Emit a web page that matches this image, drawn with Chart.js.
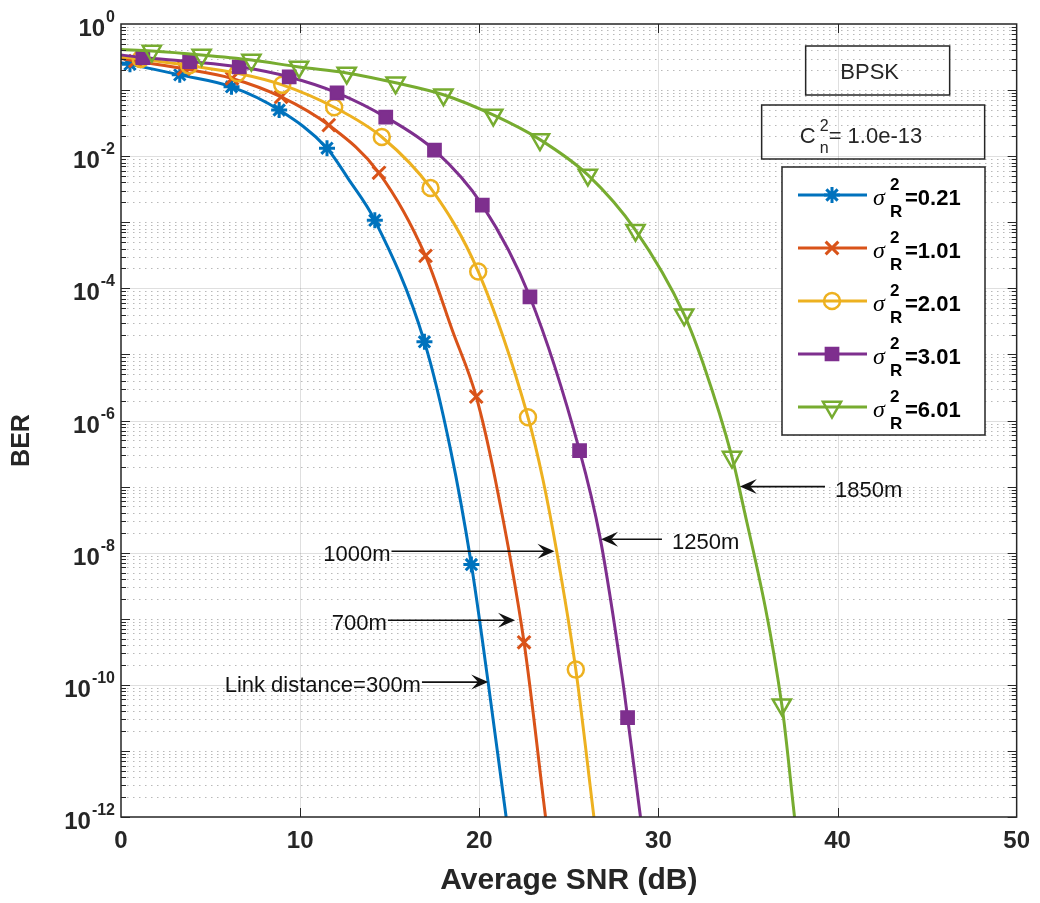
<!DOCTYPE html>
<html>
<head>
<meta charset="utf-8">
<script src="https://cdn.jsdelivr.net/npm/chart.js@4.4.1/dist/chart.umd.min.js"></script>
<style>
  html, body { margin: 0; padding: 0; background: #fff; }
</style>
</head>
<body>
<canvas id="ber_chart" width="1040" height="903"></canvas>
<script>
// sigma_R^2 values of the five curves
const sigmaLabels = ['0.21', '1.01', '2.01', '3.01', '6.01'];

// marker points (SNR in dB, BER)
const snrMk0 = [0.5, 3.28, 6.17, 8.83, 11.5, 14.17, 16.94, 19.56];
const berMk0 = [0.245, 0.17, 0.112, 0.05, 0.0132, 1.07e-3, 1.55e-5, 6.6e-9];
const snrMk1 = [0.8, 3.5, 6.2, 8.94, 11.6, 14.4, 17.0, 19.83, 22.5];
const berMk1 = [0.275, 0.21, 0.15, 0.079, 0.0295, 5.6e-3, 3.1e-4, 2.3e-6, 4.4e-10];
const snrMk2 = [1.1, 3.8, 6.5, 9.0, 11.9, 14.56, 17.28, 19.94, 22.72, 25.39];
const berMk2 = [0.295, 0.235, 0.18, 0.12, 0.055, 0.0195, 3.3e-3, 1.8e-4, 1.12e-6, 1.7e-10];
const snrMk3 = [1.22, 3.83, 6.6, 9.39, 12.06, 14.78, 17.5, 20.17, 22.83, 25.6, 28.28];
const berMk3 = [0.31, 0.27, 0.225, 0.158, 0.091, 0.039, 0.0123, 1.82e-3, 7.4e-5, 3.5e-7, 3.2e-11];
const snrMk4 = [1.72, 4.5, 7.28, 9.94, 12.6, 15.33, 18.0, 20.78, 23.39, 26.06, 28.72, 31.44, 34.11, 36.89];
const berMk4 = [0.39, 0.34, 0.285, 0.224, 0.182, 0.129, 0.085, 0.042, 0.0178, 5.2e-3, 7.6e-4, 4.0e-5, 2.8e-7, 5.0e-11];

// extra points (start, between markers, where it leaves the axes)
const snrLn0 = [0, 12.7, 18.4, 20.5, 21.5];
const berLn0 = [0.26, 4.5e-3, 3.6e-7, 1.07e-10, 1e-12];
const snrLn1 = [0, 18.5, 20.9, 23.7];
const berLn1 = [0.30, 2.3e-5, 1.26e-7, 1e-12];
const snrLn2 = [0, 23.56, 24.33, 26.4];
const berLn2 = [0.32, 1.26e-7, 1.02e-8, 1e-12];
const snrLn3 = [0, 26.75, 28.0, 29.0];
const berLn3 = [0.34, 1.66e-8, 1.2e-10, 1e-12];
const snrLn4 = [0, 32.56, 34.5, 37.6];
const berLn4 = [0.41, 6.5e-6, 1.0e-7, 1e-12];

// arrow annotations: label, arrow tail / tip in SNR, BER height
const noteText = ['Link distance=300m', '700m', '1000m', '1250m', '1850m'];
const noteTail = [16.8, 14.9, 15.1, 30.2, 39.3];
const noteTip = [20.5, 22.0, 24.2, 26.8, 34.55];
const noteBer = [1.1e-10, 9.5e-10, 1.05e-8, 1.6e-8, 1.0e-7];

const FONT = '"Liberation Sans", Arial, Helvetica, sans-serif';
const INK = '#262626';
const colours = ['#0072BD', '#D95319', '#EDB120', '#7E2F8E', '#77AC30'];
const markers = [
  { pointStyle: 'star', radius: 8, borderWidth: 3, rotation: 0, fill: false },
  { pointStyle: 'crossRot', radius: 9, borderWidth: 3, rotation: 0, fill: false },
  { pointStyle: 'circle', radius: 8, borderWidth: 2.5, rotation: 0, fill: false },
  { pointStyle: 'rect', radius: 9, borderWidth: 2, rotation: 0, fill: true },
  { pointStyle: 'triangle', radius: 10.5, borderWidth: 2.5, rotation: 180, fill: false }
];

const markX = [snrMk0, snrMk1, snrMk2, snrMk3, snrMk4];
const markY = [berMk0, berMk1, berMk2, berMk3, berMk4];
const lineX = [snrLn0, snrLn1, snrLn2, snrLn3, snrLn4];
const lineY = [berLn0, berLn1, berLn2, berLn3, berLn4];

const toPoints = (xs, ys) => xs.map((x, i) => ({ x: x, y: ys[i] }));

const datasets = [];
sigmaLabels.forEach((lab, i) => {
  const marks = toPoints(markX[i], markY[i]);
  const curve = marks.concat(toPoints(lineX[i], lineY[i])).sort((a, b) => a.x - b.x);
  const m = markers[i];
  datasets.push({
    label: lab + ' curve',
    data: curve,
    borderColor: colours[i],
    borderWidth: 3,
    pointRadius: 0,
    cubicInterpolationMode: 'monotone',
    fill: false,
    order: (4 - i) * 2 + 1
  });
  datasets.push({
    label: lab,
    data: marks,
    showLine: false,
    pointStyle: m.pointStyle,
    pointRadius: m.radius,
    pointHoverRadius: m.radius,
    pointBorderWidth: m.borderWidth,
    pointBorderColor: colours[i],
    pointBackgroundColor: m.fill ? colours[i] : 'rgba(0,0,0,0)',
    pointRotation: m.rotation,
    order: (4 - i) * 2
  });
});

function drawArrow(ctx, x0, y0, x1, y1) {
  const ang = Math.atan2(y1 - y0, x1 - x0);
  const dx = Math.cos(ang), dy = Math.sin(ang);
  const L = 17, W = 7.5;
  ctx.beginPath();
  ctx.moveTo(x0, y0);
  ctx.lineTo(x1 - dx * L * 0.6, y1 - dy * L * 0.6);
  ctx.stroke();
  ctx.beginPath();
  ctx.moveTo(x1, y1);
  ctx.lineTo(x1 - dx * L - dy * W, y1 - dy * L + dx * W);
  ctx.lineTo(x1 - dx * L * 0.6, y1 - dy * L * 0.6);
  ctx.lineTo(x1 - dx * L + dy * W, y1 - dy * L - dx * W);
  ctx.closePath();
  ctx.fill();
}

const matlabAxes = {
  id: 'matlabAxes',
  beforeDatasetsDraw(chart) {
    const { ctx, chartArea: a, scales: { x, y } } = chart;
    ctx.save();
    ctx.lineWidth = 1;
    // minor horizontal grid (dotted)
    ctx.strokeStyle = 'rgba(38,38,38,0.32)';
    ctx.setLineDash([1.5, 4.5]);
    for (let e = -12; e < 0; e++) {
      for (let m = 1; m <= 9; m++) {
        if (m === 1 && e % 2 === 0) continue;
        const py = Math.round(y.getPixelForValue(m * Math.pow(10, e))) + 0.5;
        ctx.beginPath(); ctx.moveTo(a.left, py); ctx.lineTo(a.right, py); ctx.stroke();
      }
    }
    // major grid (solid, light)
    ctx.setLineDash([]);
    ctx.strokeStyle = 'rgba(38,38,38,0.15)';
    for (let e = -10; e < 0; e += 2) {
      const py = Math.round(y.getPixelForValue(Math.pow(10, e))) + 0.5;
      ctx.beginPath(); ctx.moveTo(a.left, py); ctx.lineTo(a.right, py); ctx.stroke();
    }
    for (let v = 10; v < 50; v += 10) {
      const px = Math.round(x.getPixelForValue(v)) + 0.5;
      ctx.beginPath(); ctx.moveTo(px, a.top); ctx.lineTo(px, a.bottom); ctx.stroke();
    }
    ctx.restore();
  },
  afterDatasetsDraw(chart) {
    const { ctx, chartArea: a, scales: { x, y } } = chart;
    ctx.save();
    // axes box
    ctx.strokeStyle = INK;
    ctx.lineWidth = 1.5;
    ctx.strokeRect(a.left, a.top, a.right - a.left, a.bottom - a.top);
    // inward ticks
    ctx.lineWidth = 1;
    for (let v = 10; v < 50; v += 10) {
      const px = Math.round(x.getPixelForValue(v)) + 0.5;
      ctx.beginPath();
      ctx.moveTo(px, a.bottom); ctx.lineTo(px, a.bottom - 9);
      ctx.moveTo(px, a.top); ctx.lineTo(px, a.top + 9);
      ctx.stroke();
    }
    for (let e = -12; e < 0; e++) {
      for (let m = 1; m <= 9; m++) {
        const len = (m === 1) ? 9 : 5;
        const py = Math.round(y.getPixelForValue(m * Math.pow(10, e))) + 0.5;
        ctx.beginPath();
        ctx.moveTo(a.left, py); ctx.lineTo(a.left + len, py);
        ctx.moveTo(a.right, py); ctx.lineTo(a.right - len, py);
        ctx.stroke();
      }
    }
    // y tick labels 10^k
    ctx.fillStyle = INK;
    ctx.textBaseline = 'alphabetic';
    for (let e = 0; e >= -12; e -= 2) {
      const py = y.getPixelForValue(Math.pow(10, e));
      const sup = String(e);
      ctx.font = 'bold 16px ' + FONT;
      const supW = ctx.measureText(sup).width;
      const right = a.left - 6;
      ctx.textAlign = 'left';
      ctx.fillText(sup, right - supW, py - 2);
      ctx.font = 'bold 24px ' + FONT;
      ctx.textAlign = 'right';
      ctx.fillText('10', right - supW - 1, py + 12);
    }

    // y axis title
    ctx.save();
    ctx.translate(22, (a.top + a.bottom) / 2 + 20);
    ctx.rotate(-Math.PI / 2);
    ctx.font = 'bold 25px ' + FONT;
    ctx.textAlign = 'center';
    ctx.textBaseline = 'middle';
    ctx.fillText('BER', 0, 0);
    ctx.restore();

    // annotation arrows
    ctx.fillStyle = '#111';
    ctx.strokeStyle = '#111';
    ctx.lineWidth = 1.6;
    ctx.font = '22px ' + FONT;
    ctx.textBaseline = 'middle';
    noteText.forEach((t, i) => {
      const py = y.getPixelForValue(noteBer[i]);
      const tx = x.getPixelForValue(noteTail[i]);
      const hx = x.getPixelForValue(noteTip[i]);
      drawArrow(ctx, tx, py, hx, py);
      if (hx > tx) { ctx.textAlign = 'right'; ctx.fillText(t, tx - 1, py + 4); }
      else { ctx.textAlign = 'left'; ctx.fillText(t, tx + 10, py + 4); }
    });

    // text boxes
    ctx.strokeStyle = INK;
    ctx.lineWidth = 1.5;
    ctx.fillStyle = INK;
    const bx = a.right - 211, by = a.top + 22;
    ctx.strokeRect(bx, by, 144, 49);
    ctx.font = '22px ' + FONT;
    ctx.textAlign = 'center';
    ctx.textBaseline = 'alphabetic';
    ctx.fillText('BPSK', bx + 64, by + 33);

    const cx = a.right - 255, cy = a.top + 81;
    ctx.strokeRect(cx, cy, 223, 54);
    ctx.textAlign = 'left';
    ctx.font = '22px ' + FONT;
    ctx.fillText('C', cx + 38, cy + 38);
    ctx.font = '16px ' + FONT;
    ctx.fillText('2', cx + 58, cy + 26);
    ctx.fillText('n', cx + 58, cy + 48);
    ctx.font = '22px ' + FONT;
    ctx.fillText('= 1.0e-13', cx + 67, cy + 38);

    // legend
    const lx = a.left + 661, ly = a.top + 143, lw = 203, lh = 268;
    ctx.fillStyle = '#fff';
    ctx.fillRect(lx, ly, lw, lh);
    ctx.strokeRect(lx, ly, lw, lh);
    const draw = Chart.helpers && Chart.helpers.drawPoint;
    sigmaLabels.forEach((lab, i) => {
      const ry = ly + 28 + i * 53;
      ctx.strokeStyle = colours[i];
      ctx.lineWidth = 3;
      ctx.beginPath(); ctx.moveTo(lx + 16, ry); ctx.lineTo(lx + 85, ry); ctx.stroke();
      const m = markers[i];
      ctx.fillStyle = m.fill ? colours[i] : 'rgba(0,0,0,0)';
      ctx.lineWidth = m.borderWidth;
      if (draw) draw(ctx, { pointStyle: m.pointStyle, radius: m.radius, rotation: m.rotation, borderWidth: m.borderWidth }, lx + 50, ry);
      ctx.fillStyle = '#000';
      ctx.textAlign = 'left';
      ctx.textBaseline = 'alphabetic';
      ctx.font = 'italic 24px "Liberation Serif", "DejaVu Serif", serif';
      ctx.fillText('\u03C3', lx + 91, ry + 10);
      ctx.font = 'bold 17px ' + FONT;
      ctx.fillText('2', lx + 108, ry - 5);
      ctx.fillText('R', lx + 108, ry + 22);
      ctx.font = 'bold 22px ' + FONT;
      ctx.fillText('=' + lab, lx + 123, ry + 10);
    });
    ctx.restore();
  }
};

new Chart(document.getElementById('ber_chart').getContext('2d'), {
  type: 'line',
  data: { datasets: datasets },
  options: {
    responsive: false,
    animation: false,
    layout: { padding: { top: 24, right: 20, left: 0, bottom: 0 } },
    plugins: {
      legend: { display: false },
      tooltip: { enabled: false }
    },
    scales: {
      x: {
        type: 'linear',
        min: 0,
        max: 50,
        ticks: { stepSize: 10, color: INK, padding: 10, font: { family: FONT, size: 24, weight: 'bold' } },
        grid: { display: false, drawTicks: false },
        border: { display: false },
        title: { display: true, text: 'Average SNR (dB)', color: INK, padding: { top: 2, bottom: 4 }, font: { family: FONT, size: 30, weight: 'bold' } },
        afterFit: s => { s.height = 86; }
      },
      y: {
        type: 'logarithmic',
        min: 1e-12,
        max: 1,
        ticks: { display: false },
        grid: { display: false, drawTicks: false },
        border: { display: false },
        title: { display: false },
        afterFit: s => { s.width = 121; }
      }
    }
  },
  plugins: [matlabAxes]
});
</script>
</body>
</html>
